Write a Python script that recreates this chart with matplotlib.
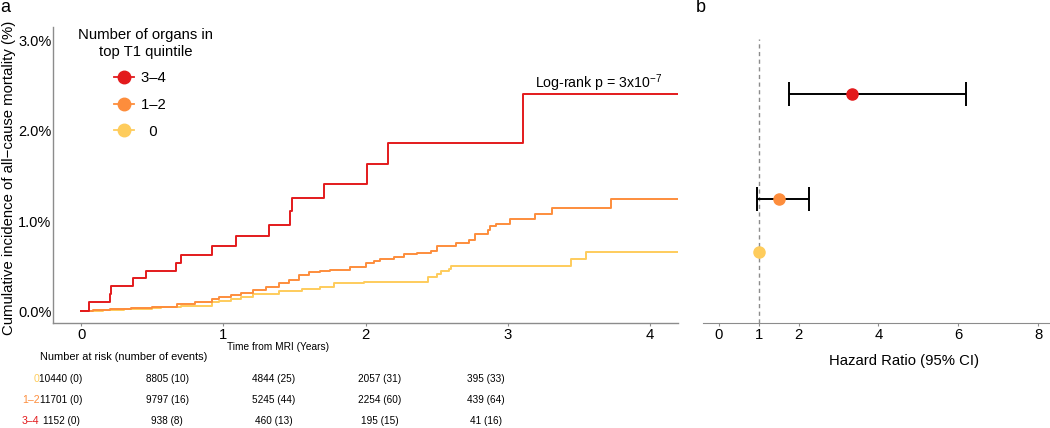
import matplotlib
matplotlib.use("Agg")
import matplotlib.pyplot as plt
from matplotlib.lines import Line2D
from matplotlib.ticker import FuncFormatter

plt.rcParams["font.family"] = ["Liberation Sans", "DejaVu Sans"]
plt.rcParams["mathtext.default"] = "regular"

RED = "#E31A1C"
ORANGE = "#FD8D3C"
YELLOW = "#FECC5C"
GREY = "#8c8c8c"

# cumulative incidence (%) step curves
t_34 = [0, 0.05, 0.20, 0.21, 0.36, 0.455, 0.667, 0.70, 0.92, 1.087, 1.324,
        1.47, 1.486, 1.706, 2.01, 2.157, 3.11, 4.2]
ci_34 = [0, 0.096, 0.185, 0.28, 0.367, 0.45, 0.53, 0.62, 0.72, 0.83, 0.96,
         1.11, 1.25, 1.41, 1.63, 1.87, 2.41, 2.41]

t_12 = [0, 0.08, 0.2, 0.35, 0.5, 0.56, 0.67, 0.8, 0.92, 0.97, 1.05, 1.12, 1.21,
        1.3, 1.39, 1.46, 1.535, 1.6, 1.68, 1.75, 1.89, 2.0, 2.06, 2.10, 2.2,
        2.27, 2.36, 2.46, 2.50, 2.64, 2.73, 2.77, 2.86, 2.875, 2.92, 3.02,
        3.19, 3.31, 3.73, 4.2]
ci_12 = [0, 0.01, 0.02, 0.03, 0.04, 0.05, 0.075, 0.10, 0.13, 0.16, 0.18, 0.20,
         0.23, 0.27, 0.31, 0.35, 0.40, 0.43, 0.45, 0.46, 0.485, 0.53, 0.56,
         0.58, 0.60, 0.63, 0.65, 0.667, 0.726, 0.76, 0.79, 0.86, 0.90, 0.94,
         0.97, 1.02, 1.08, 1.14, 1.24, 1.24]

t_0 = [0, 0.15, 0.3, 0.5, 0.56, 0.7, 0.92, 0.97, 1.05, 1.12, 1.21, 1.39, 1.55,
       1.68, 1.78, 1.99, 2.44, 2.50, 2.53, 2.585, 2.60, 3.45, 3.55, 4.2]
ci_0 = [0, 0.01, 0.02, 0.03, 0.04, 0.06, 0.10, 0.115, 0.13, 0.16, 0.185, 0.22,
        0.245, 0.27, 0.31, 0.325, 0.375, 0.41, 0.45, 0.47, 0.50, 0.58, 0.66,
        0.66]

groups = ["3–4", "1–2", "0"]
colors = [RED, ORANGE, YELLOW]

# hazard ratios (95% CI); "0" is the reference group
hr = [3.33, 1.5, 1.0]
hr_lo = [1.77, 0.97, None]
hr_hi = [6.18, 2.27, None]

# number at risk table
risk_times = [0, 1, 2, 3, 4]
risk_groups = ["0", "1–2", "3–4"]
risk_colors = [YELLOW, ORANGE, RED]
at_risk = [[10440, 8805, 4844, 2057, 395],
           [11701, 9797, 5245, 2254, 439],
           [1152, 938, 460, 195, 41]]
n_events = [[0, 10, 25, 31, 33],
            [0, 16, 44, 60, 64],
            [0, 8, 13, 15, 16]]

W, H = 1050, 428
fig = plt.figure(figsize=(W / 100, H / 100), dpi=100)


def frac_box(x0, y0, x1, y1):
    return [x0 / W, 1 - y1 / H, (x1 - x0) / W, (y1 - y0) / H]


YLIM = (-0.133, 3.155)

# ---- panel a: cumulative incidence
ax = fig.add_axes(frac_box(53, 27, 678, 323))
for t, c, col in [(t_0, ci_0, YELLOW), (t_12, ci_12, ORANGE), (t_34, ci_34, RED)]:
    ax.step(t, c, where="post", color=col, lw=1.4)
ax.set_xlim(-0.2, 4.2)
ax.set_ylim(*YLIM)
ax.set_xticks([0, 1, 2, 3, 4])
ax.set_yticks([0, 1, 2, 3])
ax.yaxis.set_major_formatter(FuncFormatter(lambda v, _: f"{v:.1f}%"))
for sp in ("top", "right"):
    ax.spines[sp].set_visible(False)
for sp in ("left", "bottom"):
    ax.spines[sp].set_color(GREY)
    ax.spines[sp].set_linewidth(1.0)
ax.tick_params(axis="x", colors=GREY, labelcolor="black", labelsize=10.7,
               length=2.2, width=0.8, pad=1.5)
ax.tick_params(axis="y", labelcolor="black", labelsize=10.5, length=0, pad=1)
ax.set_xlabel("Time from MRI (Years)", fontsize=7.3)
ax.xaxis.set_label_coords(0.36, -0.064)
ax.set_ylabel("Cumulative incidence of all−cause mortality (%)", fontsize=10.7)
ax.yaxis.set_label_coords(-0.059, 0.49)
ax.text(4.09, 2.48, "Log-rank p = 3x10$^{-7}$", ha="right", va="baseline", fontsize=10.2)

handles = [Line2D([], [], color=c, marker="o", markersize=9, lw=1.3) for c in colors]
labels = [(g if len(g) > 1 else "  " + g) + "   " for g in groups]
leg = ax.legend(handles, labels, title="Number of organs in\ntop T1 quintile",
                loc="upper left", bbox_to_anchor=(71 / W, 1 - 21 / H),
                bbox_transform=fig.transFigure, frameon=False, fontsize=10.7,
                title_fontsize=10.7, handlelength=1.4, handletextpad=0.45,
                labelspacing=0.85, borderpad=0)
leg.get_title().set_multialignment("center")

# ---- panel b: hazard ratios
bx = fig.add_axes(frac_box(703, 27, 1050, 323))
ends = [ci_34[-1], ci_12[-1], ci_0[-1]]
bx.vlines(1, YLIM[0], 3.02, colors=GREY, linestyles=(0, (3, 2.5)), lw=1.0)
for h, lo, hi, y, col in zip(hr, hr_lo, hr_hi, ends, colors):
    if lo is not None:
        bx.errorbar(h, y, xerr=[[h - lo], [hi - h]], fmt="none", ecolor="black",
                    elinewidth=1.4, capsize=8.5, capthick=1.4)
    bx.plot(h, y, "o", color=col, markersize=8, zorder=3)
bx.set_xlim(-0.39, 8.29)
bx.set_ylim(*YLIM)
bx.set_xticks([0, 1, 2, 4, 6, 8])
bx.set_yticks([])
for sp in ("top", "right", "left"):
    bx.spines[sp].set_visible(False)
bx.spines["bottom"].set_color(GREY)
bx.tick_params(colors=GREY, labelcolor="black", labelsize=10.7, length=2.2,
               width=0.8, pad=1.5)
bx.set_xlabel("Hazard Ratio (95% CI)", fontsize=10.7)
bx.xaxis.set_label_coords(0.58, -0.105)

# ---- number at risk table
tx = fig.add_axes(frac_box(0, 340, W, H))
tx.set_xlim((0 - 61) / 106.25, (W - 61) / 106.25)
tx.set_ylim((H - 379) / 21, (340 - 379) / 21)
tx.axis("off")
tx.text((40 - 61) / 106.25, -1.05, "Number at risk (number of events)",
        ha="left", va="center", fontsize=7.9)
for i, (g, col) in enumerate(zip(risk_groups, risk_colors)):
    tx.text((39.5 - 61) / 106.25, i, g, ha="right", va="center", color=col,
            fontsize=7.6)
    for t, n, e in zip(risk_times, at_risk[i], n_events[i]):
        tx.text(t, i, f"{n} ({e})", ha="center", va="center", fontsize=7.2)

fig.text(0 / W, 1 - 8 / H, "a", fontsize=13, va="center", ha="left")
fig.text(696 / W, 1 - 8 / H, "b", fontsize=13, va="center", ha="left")

fig.savefig("out.png", dpi=100, facecolor="white")
